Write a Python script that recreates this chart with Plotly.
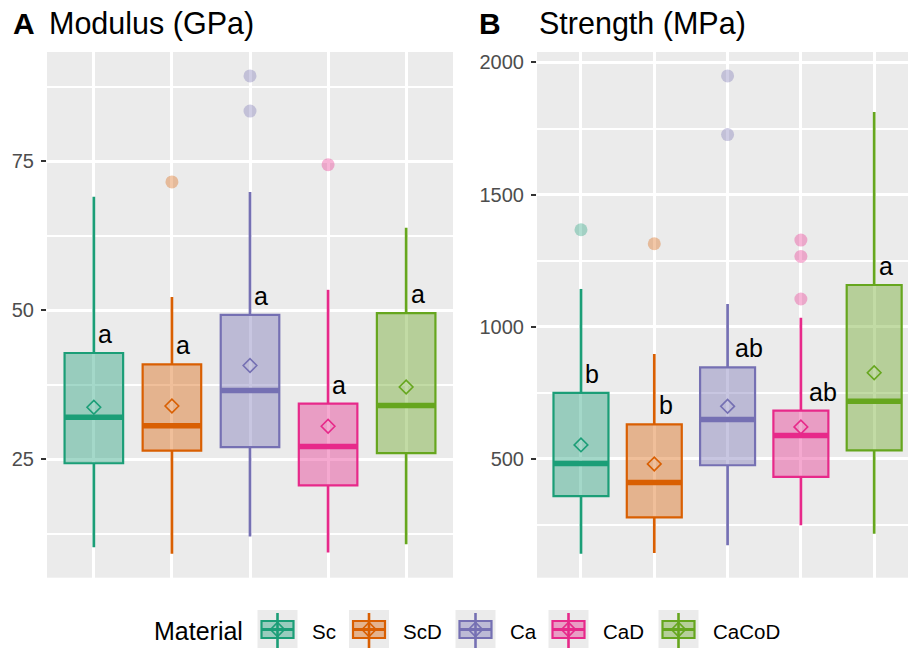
import plotly.graph_objects as go

# ---- data -------------------------------------------------------------
materials = ["Sc", "ScD", "Ca", "CaD", "CaCoD"]
colors = ["#1B9E77", "#D95F02", "#7570B3", "#E7298A", "#66A61E"]

# Modulus (GPa)
mod_q1 = [24.3, 26.4, 27.0, 20.6, 26.0]
mod_med = [32.0, 30.6, 36.5, 27.1, 34.0]
mod_q3 = [42.8, 40.9, 49.2, 34.3, 49.5]
mod_lo = [10.2, 9.1, 12.0, 9.3, 10.7]
mod_hi = [69.0, 52.2, 69.8, 53.4, 63.8]
mod_mean = [33.7, 33.9, 40.7, 30.5, 37.1]
mod_out = [[], [71.5], [89.3, 83.4], [74.4], []]
mod_letters = ["a", "a", "a", "a", "a"]

# Strength (MPa)
str_q1 = [359, 279, 476, 432, 532]
str_med = [483, 411, 649, 589, 718]
str_q3 = [750, 631, 846, 683, 1158]
str_lo = [141, 144, 173, 249, 217]
str_hi = [1143, 897, 1086, 1034, 1812]
str_mean = [553, 481, 699, 621, 826]
str_out = [[1367], [1314], [1949, 1727], [1328, 1266, 1105], []]
str_letters = ["b", "b", "ab", "ab", "a"]

mod_ticks = [25, 50, 75]
mod_minor = [12.5, 37.5, 62.5, 87.5]
str_ticks = [500, 1000, 1500, 2000]
str_minor = [250, 750, 1250, 1750]

# ---- layout constants (pixels) -----------------------------------------
W, H = 908, 648
BOX_W = 0.75
FONT = "Liberation Sans, Arial, sans-serif"
PANEL_BG = "#EBEBEB"


def px(x):
    return x / W


def py(y):
    return 1 - y / H


def rgba(hex_color, a):
    h = hex_color.lstrip("#")
    r, g, b = int(h[0:2], 16), int(h[2:4], 16), int(h[4:6], 16)
    return f"rgba({r},{g},{b},{a})"


fig = go.Figure()
annotations = []


def add_panel(xa, ya, q1, med, q3, lo, hi, mean, outs, letters):
    xref = "x" if xa == "xaxis" else "x" + xa[5:]
    yref = "y" if ya == "yaxis" else "y" + ya[5:]
    for i, name in enumerate(materials):
        c = colors[i]
        xc = i + 1
        # whiskers (no caps)
        fig.add_trace(go.Scatter(
            x=[xc, xc, None, xc, xc], y=[lo[i], q1[i], None, q3[i], hi[i]],
            mode="lines", line=dict(color=c, width=2.7),
            xaxis=xref, yaxis=yref, showlegend=False, hoverinfo="skip",
        ))
        fig.add_trace(go.Box(
            x=[xc], q1=[q1[i]], median=[med[i]], q3=[q3[i]],
            lowerfence=[q1[i]], upperfence=[q3[i]],
            width=BOX_W, whiskerwidth=0, boxpoints=False,
            fillcolor=rgba(c, 0.4), line=dict(color=c, width=2.2),
            xaxis=xref, yaxis=yref, showlegend=False, hoverinfo="skip",
        ))
        # thick median bar
        fig.add_trace(go.Scatter(
            x=[xc - BOX_W / 2, xc + BOX_W / 2], y=[med[i], med[i]],
            mode="lines", line=dict(color=c, width=5.5),
            xaxis=xref, yaxis=yref, showlegend=False, hoverinfo="skip",
        ))
        # mean marker
        fig.add_trace(go.Scatter(
            x=[xc], y=[mean[i]], mode="markers",
            marker=dict(symbol="diamond-open", size=10.5, color=c,
                        line=dict(width=1.6, color=c)),
            xaxis=xref, yaxis=yref, showlegend=False, hoverinfo="skip",
        ))
        # outliers
        if outs[i]:
            fig.add_trace(go.Scatter(
                x=[xc] * len(outs[i]), y=outs[i], mode="markers",
                marker=dict(size=13, color=rgba(c, 0.35), line=dict(width=0)),
                xaxis=xref, yaxis=yref, showlegend=False, hoverinfo="skip",
            ))
        # significance letters
        annotations.append(dict(
            x=xc, y=q3[i], xref=xref, yref=yref, text=letters[i],
            showarrow=False, xanchor="left", yanchor="bottom",
            xshift=3.4 * len(letters[i]) - 1, yshift=3,
            font=dict(size=25, color="black", family=FONT),
        ))


add_panel("xaxis", "yaxis", mod_q1, mod_med, mod_q3, mod_lo, mod_hi,
          mod_mean, mod_out, mod_letters)
add_panel("xaxis2", "yaxis2", str_q1, str_med, str_q3, str_lo, str_hi,
          str_mean, str_out, str_letters)


def data_range(lo, hi, outs):
    vals = list(lo) + list(hi) + [v for o in outs for v in o]
    a, b = min(vals), max(vals)
    pad = 0.05 * (b - a)
    return [a - pad, b + pad]


# panel geometry
L1, R1 = 47, 453
L2, UNIT2 = 537, 73.3
TOP, BOT = 52, 577.7

xcommon = dict(tickvals=[1, 2, 3, 4, 5], showticklabels=False, ticks="",
               showgrid=True, gridcolor="white", gridwidth=2.8,
               zeroline=False, showline=False, fixedrange=True)
ycommon = dict(ticks="outside", ticklen=5, tickwidth=2, tickcolor="#333333",
               tickfont=dict(size=20, color="#4D4D4D", family=FONT),
               showgrid=True, gridcolor="white", gridwidth=2.8,
               zeroline=False, showline=False, ticklabelstandoff=3)

fig.update_layout(
    width=W, height=H,
    margin=dict(l=0, r=0, t=0, b=0),
    paper_bgcolor="white", plot_bgcolor=PANEL_BG,
    showlegend=False,
    font=dict(family=FONT),
    xaxis=dict(domain=[px(L1), px(R1)], range=[0.4, 5.6], **xcommon),
    yaxis=dict(domain=[py(BOT), py(TOP)],
               range=data_range(mod_lo, mod_hi, mod_out),
               tickvals=mod_ticks,
               minor=dict(tickvals=mod_minor, showgrid=True,
                          gridcolor="white", gridwidth=1.5, ticks=""),
               **ycommon),
    xaxis2=dict(domain=[px(L2), 1.0],
                range=[0.4, 0.4 + (W - L2) / UNIT2], anchor="y2", **xcommon),
    yaxis2=dict(domain=[py(BOT), py(TOP)], anchor="x2",
                range=data_range(str_lo, str_hi, str_out),
                tickvals=str_ticks,
                minor=dict(tickvals=str_minor, showgrid=True,
                           gridcolor="white", gridwidth=1.5, ticks=""),
                **ycommon),
)

# panel titles
for tag, tx, title, ttx in [("A", 11, "Modulus (GPa)", 47),
                            ("B", 477, "Strength (MPa)", 537)]:
    annotations.append(dict(x=px(tx), y=py(23), xref="paper", yref="paper",
                            text=f"<b>{tag}</b>", showarrow=False,
                            xanchor="left", yanchor="middle",
                            font=dict(size=30, color="black", family=FONT)))
    annotations.append(dict(x=px(ttx), y=py(23), xref="paper", yref="paper",
                            text=title, showarrow=False,
                            xanchor="left", yanchor="middle",
                            font=dict(size=30.5, color="black", family=FONT)))

# legend (drawn as layout shapes)
shapes = []
KEY = 40
KEY_TOP = 610
key_left = [257.5, 349, 455.5, 548.5, 658.5]
annotations.append(dict(x=px(152), y=py(631), xref="paper", yref="paper",
                        text="Material", showarrow=False, xanchor="left",
                        yanchor="middle",
                        font=dict(size=25, color="black", family=FONT)))
for i, name in enumerate(materials):
    c = colors[i]
    x0 = key_left[i]
    cx = x0 + KEY / 2
    cy = KEY_TOP + KEY / 2
    shapes.append(dict(type="rect", xref="paper", yref="paper",
                       x0=px(x0), x1=px(x0 + KEY), y0=py(KEY_TOP),
                       y1=py(KEY_TOP + KEY), fillcolor=PANEL_BG,
                       line=dict(width=0), layer="below"))
    # whisker
    shapes.append(dict(type="line", xref="paper", yref="paper",
                       x0=px(cx), x1=px(cx), y0=py(KEY_TOP + 3),
                       y1=py(KEY_TOP + KEY + 2), line=dict(color=c, width=2.6)))
    # box
    shapes.append(dict(type="rect", xref="paper", yref="paper",
                       x0=px(x0 + 4), x1=px(x0 + KEY - 4), y0=py(cy - 9),
                       y1=py(cy + 8), fillcolor=rgba(c, 0.4),
                       line=dict(color=c, width=2.2)))
    # median
    shapes.append(dict(type="line", xref="paper", yref="paper",
                       x0=px(x0 + 4), x1=px(x0 + KEY - 4), y0=py(cy - 0.5),
                       y1=py(cy - 0.5), line=dict(color=c, width=3)))
    # mean diamond
    d = 7
    path = (f"M {px(cx - d)},{py(cy - 0.5)} L {px(cx)},{py(cy - 0.5 - d)} "
            f"L {px(cx + d)},{py(cy - 0.5)} L {px(cx)},{py(cy - 0.5 + d)} Z")
    shapes.append(dict(type="path", xref="paper", yref="paper", path=path,
                       line=dict(color=c, width=1.6),
                       fillcolor="rgba(0,0,0,0)"))
    annotations.append(dict(x=px(x0 + KEY + 12), y=py(631), xref="paper",
                            yref="paper", text=name, showarrow=False,
                            xanchor="left", yanchor="middle",
                            font=dict(size=20.5, color="black", family=FONT)))

fig.update_layout(annotations=annotations, shapes=shapes)
fig.write_html("out.html")
